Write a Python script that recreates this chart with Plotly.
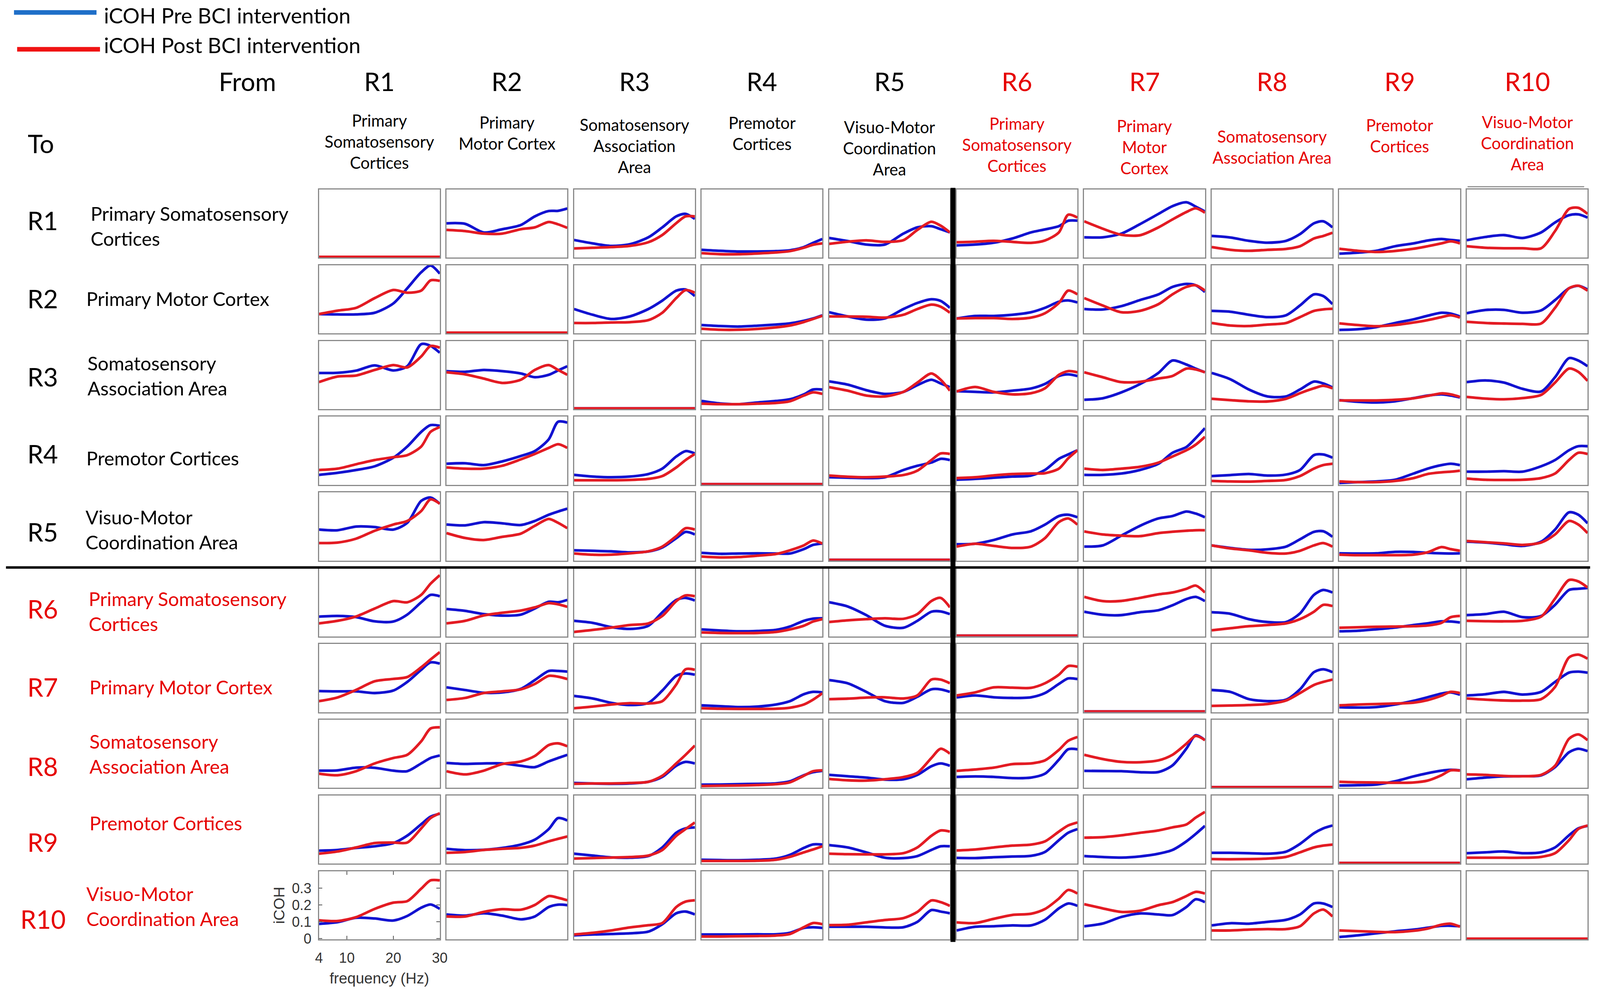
import plotly.graph_objects as go

# frequency samples (Hz) used for every small panel
FREQ = [4, 8, 12, 16, 20, 23, 26, 28, 30]
ZERO = [0, 0, 0, 0, 0, 0, 0, 0, 0]

# iCOH pre BCI intervention, one list per "To" row, one sub-list per "From" column
PRE_TO_R1 = [ZERO,
             [0.199, 0.196, 0.145, 0.164, 0.189, 0.24, 0.272, 0.273, 0.287],
             [0.10, 0.08, 0.065, 0.075, 0.116, 0.175, 0.24, 0.255, 0.225],
             [0.042, 0.036, 0.032, 0.032, 0.034, 0.039, 0.058, 0.083, 0.106],
             [0.112, 0.094, 0.073, 0.073, 0.138, 0.175, 0.182, 0.164, 0.145],
             [0.068, 0.073, 0.084, 0.109, 0.145, 0.163, 0.182, 0.214, 0.215],
             [0.116, 0.116, 0.138, 0.194, 0.255, 0.301, 0.324, 0.298, 0.269],
             [0.124, 0.115, 0.095, 0.084, 0.095, 0.135, 0.199, 0.211, 0.175],
             [0.019, 0.025, 0.036, 0.063, 0.08, 0.097, 0.106, 0.1, 0.095],
             [0.099, 0.118, 0.129, 0.112, 0.145, 0.204, 0.247, 0.252, 0.233]]
PRE_TO_R2 = [[0.11, 0.108, 0.108, 0.118, 0.173, 0.263, 0.358, 0.398, 0.35],
             ZERO,
             [0.14, 0.106, 0.081, 0.096, 0.14, 0.19, 0.249, 0.256, 0.217],
             [0.045, 0.039, 0.036, 0.041, 0.048, 0.055, 0.07, 0.084, 0.103],
             [0.121, 0.096, 0.077, 0.084, 0.14, 0.176, 0.198, 0.188, 0.147],
             [0.084, 0.099, 0.099, 0.106, 0.121, 0.147, 0.183, 0.191, 0.179],
             [0.14, 0.137, 0.157, 0.193, 0.227, 0.271, 0.289, 0.281, 0.241],
             [0.129, 0.124, 0.106, 0.092, 0.103, 0.161, 0.227, 0.217, 0.169],
             [0.016, 0.02, 0.033, 0.057, 0.079, 0.1, 0.118, 0.113, 0.096],
             [0.115, 0.134, 0.135, 0.118, 0.132, 0.193, 0.263, 0.278, 0.256]]
PRE_TO_R3 = [[0.21, 0.211, 0.224, 0.255, 0.225, 0.25, 0.381, 0.371, 0.33],
             [0.221, 0.217, 0.228, 0.221, 0.207, 0.185, 0.199, 0.225, 0.25],
             ZERO,
             [0.044, 0.029, 0.025, 0.035, 0.044, 0.054, 0.083, 0.112, 0.112],
             [0.16, 0.141, 0.108, 0.086, 0.098, 0.138, 0.17, 0.148, 0.126],
             [0.102, 0.098, 0.095, 0.105, 0.118, 0.145, 0.192, 0.202, 0.192],
             [0.051, 0.06, 0.095, 0.144, 0.211, 0.284, 0.26, 0.236, 0.214],
             [0.21, 0.173, 0.112, 0.071, 0.071, 0.112, 0.159, 0.148, 0.124],
             [0.049, 0.039, 0.035, 0.042, 0.061, 0.076, 0.083, 0.076, 0.065],
             [0.156, 0.166, 0.153, 0.116, 0.1, 0.185, 0.298, 0.284, 0.25]]
PRE_TO_R4 = [[0.055, 0.067, 0.084, 0.106, 0.157, 0.223, 0.31, 0.35, 0.346],
             [0.121, 0.124, 0.113, 0.135, 0.167, 0.196, 0.266, 0.37, 0.365],
             [0.055, 0.045, 0.041, 0.045, 0.06, 0.092, 0.164, 0.196, 0.182],
             ZERO,
             [0.041, 0.038, 0.036, 0.041, 0.084, 0.109, 0.128, 0.15, 0.143],
             [0.026, 0.031, 0.038, 0.045, 0.051, 0.084, 0.15, 0.176, 0.201],
             [0.055, 0.055, 0.063, 0.084, 0.121, 0.186, 0.22, 0.273, 0.332],
             [0.048, 0.054, 0.06, 0.051, 0.057, 0.084, 0.172, 0.176, 0.157],
             [0.007, 0.012, 0.016, 0.026, 0.063, 0.092, 0.113, 0.121, 0.113],
             [0.074, 0.074, 0.077, 0.074, 0.106, 0.143, 0.201, 0.225, 0.225]]
PRE_TO_R5 = [[0.18, 0.176, 0.198, 0.195, 0.18, 0.22, 0.35, 0.37, 0.333],
             [0.21, 0.205, 0.224, 0.217, 0.207, 0.231, 0.268, 0.287, 0.304],
             [0.057, 0.054, 0.051, 0.045, 0.05, 0.074, 0.129, 0.166, 0.151],
             [0.042, 0.036, 0.038, 0.039, 0.038, 0.038, 0.064, 0.089, 0.097],
             ZERO,
             [0.093, 0.096, 0.118, 0.151, 0.17, 0.209, 0.26, 0.268, 0.253],
             [0.079, 0.086, 0.144, 0.202, 0.246, 0.26, 0.287, 0.275, 0.253],
             [0.086, 0.071, 0.06, 0.063, 0.079, 0.122, 0.166, 0.17, 0.137],
             [0.039, 0.038, 0.039, 0.048, 0.047, 0.042, 0.039, 0.038, 0.039],
             [0.108, 0.103, 0.093, 0.083, 0.108, 0.18, 0.282, 0.268, 0.217]]
PRE_TO_R6 = [[0.113, 0.117, 0.11, 0.085, 0.084, 0.125, 0.198, 0.242, 0.234],
             [0.158, 0.147, 0.128, 0.119, 0.125, 0.161, 0.201, 0.198, 0.212],
             [0.088, 0.076, 0.051, 0.04, 0.059, 0.139, 0.212, 0.224, 0.209],
             [0.037, 0.031, 0.026, 0.028, 0.034, 0.054, 0.088, 0.101, 0.103],
             [0.198, 0.173, 0.122, 0.059, 0.047, 0.088, 0.142, 0.144, 0.128],
             ZERO,
             [0.142, 0.124, 0.122, 0.139, 0.151, 0.18, 0.217, 0.23, 0.205],
             [0.139, 0.13, 0.098, 0.081, 0.081, 0.132, 0.242, 0.271, 0.256],
             [0.026, 0.029, 0.038, 0.048, 0.063, 0.073, 0.085, 0.084, 0.078],
             [0.122, 0.128, 0.142, 0.11, 0.117, 0.183, 0.271, 0.278, 0.283]]
PRE_TO_R7 = [[0.121, 0.119, 0.119, 0.109, 0.124, 0.175, 0.247, 0.291, 0.284],
             [0.143, 0.127, 0.111, 0.113, 0.134, 0.186, 0.24, 0.24, 0.236],
             [0.092, 0.077, 0.051, 0.038, 0.051, 0.124, 0.211, 0.225, 0.218],
             [0.036, 0.031, 0.026, 0.029, 0.041, 0.061, 0.102, 0.116, 0.113],
             [0.186, 0.167, 0.116, 0.061, 0.051, 0.087, 0.131, 0.131, 0.116],
             [0.083, 0.095, 0.084, 0.08, 0.084, 0.109, 0.163, 0.196, 0.192],
             ZERO,
             [0.127, 0.116, 0.073, 0.061, 0.07, 0.131, 0.233, 0.25, 0.233],
             [0.025, 0.023, 0.026, 0.041, 0.063, 0.084, 0.106, 0.113, 0.099],
             [0.095, 0.102, 0.116, 0.1, 0.116, 0.175, 0.23, 0.236, 0.23]]
PRE_TO_R8 = [[0.098, 0.1, 0.116, 0.115, 0.098, 0.095, 0.141, 0.173, 0.188],
             [0.144, 0.138, 0.141, 0.141, 0.127, 0.119, 0.153, 0.173, 0.192],
             [0.025, 0.022, 0.02, 0.022, 0.032, 0.061, 0.127, 0.15, 0.141],
             [0.015, 0.016, 0.018, 0.02, 0.023, 0.035, 0.071, 0.089, 0.097],
             [0.073, 0.065, 0.057, 0.045, 0.047, 0.073, 0.124, 0.141, 0.127],
             [0.061, 0.064, 0.061, 0.054, 0.057, 0.08, 0.163, 0.225, 0.225],
             [0.097, 0.096, 0.095, 0.089, 0.09, 0.129, 0.229, 0.308, 0.279],
             ZERO,
             [0.01, 0.012, 0.016, 0.035, 0.064, 0.083, 0.098, 0.103, 0.1],
             [0.047, 0.057, 0.064, 0.065, 0.07, 0.119, 0.207, 0.228, 0.214]]
PRE_TO_R9 = [[0.073, 0.077, 0.089, 0.099, 0.118, 0.162, 0.23, 0.274, 0.292],
             [0.084, 0.076, 0.078, 0.089, 0.109, 0.138, 0.201, 0.266, 0.252],
             [0.055, 0.044, 0.033, 0.031, 0.041, 0.092, 0.179, 0.205, 0.211],
             [0.019, 0.017, 0.016, 0.019, 0.026, 0.048, 0.089, 0.11, 0.109],
             [0.106, 0.092, 0.063, 0.031, 0.029, 0.041, 0.077, 0.099, 0.099],
             [0.03, 0.029, 0.034, 0.038, 0.042, 0.065, 0.135, 0.179, 0.201],
             [0.041, 0.035, 0.032, 0.039, 0.055, 0.077, 0.128, 0.172, 0.22],
             [0.06, 0.06, 0.058, 0.055, 0.067, 0.113, 0.176, 0.205, 0.222],
             ZERO,
             [0.058, 0.063, 0.068, 0.058, 0.063, 0.092, 0.164, 0.205, 0.22]]
PRE_TO_R10 = [[0.088, 0.098, 0.124, 0.12, 0.108, 0.135, 0.184, 0.203, 0.177],
              [0.144, 0.137, 0.151, 0.137, 0.115, 0.132, 0.188, 0.202, 0.199],
              [0.02, 0.025, 0.028, 0.032, 0.042, 0.086, 0.151, 0.161, 0.144],
              [0.025, 0.025, 0.025, 0.026, 0.026, 0.035, 0.064, 0.068, 0.064],
              [0.071, 0.071, 0.071, 0.067, 0.068, 0.1, 0.17, 0.161, 0.151],
              [0.049, 0.071, 0.074, 0.079, 0.079, 0.112, 0.18, 0.209, 0.195],
              [0.074, 0.09, 0.129, 0.15, 0.144, 0.14, 0.188, 0.234, 0.217],
              [0.079, 0.092, 0.089, 0.1, 0.112, 0.144, 0.209, 0.209, 0.188],
              [0.01, 0.02, 0.032, 0.044, 0.054, 0.065, 0.076, 0.077, 0.074],
              ZERO]

# iCOH post BCI intervention
POST_TO_R1 = [ZERO,
              [0.16, 0.153, 0.138, 0.138, 0.164, 0.175, 0.207, 0.193, 0.172],
              [0.05, 0.054, 0.058, 0.065, 0.087, 0.13, 0.2, 0.24, 0.24],
              [0.022, 0.016, 0.016, 0.02, 0.026, 0.034, 0.054, 0.072, 0.08],
              [0.077, 0.09, 0.098, 0.089, 0.099, 0.16, 0.208, 0.185, 0.145],
              [0.087, 0.09, 0.095, 0.089, 0.083, 0.097, 0.145, 0.25, 0.233],
              [0.211, 0.167, 0.131, 0.128, 0.175, 0.222, 0.266, 0.288, 0.262],
              [0.058, 0.042, 0.036, 0.042, 0.047, 0.063, 0.109, 0.124, 0.143],
              [0.048, 0.036, 0.029, 0.035, 0.048, 0.063, 0.08, 0.092, 0.08],
              [0.063, 0.054, 0.051, 0.051, 0.051, 0.153, 0.284, 0.291, 0.255]]
POST_TO_R2 = [[0.11, 0.13, 0.147, 0.205, 0.253, 0.237, 0.249, 0.31, 0.307],
              ZERO,
              [0.057, 0.057, 0.06, 0.062, 0.074, 0.118, 0.205, 0.252, 0.237],
              [0.023, 0.017, 0.017, 0.022, 0.031, 0.042, 0.063, 0.081, 0.1],
              [0.096, 0.096, 0.094, 0.089, 0.106, 0.14, 0.166, 0.154, 0.118],
              [0.084, 0.086, 0.086, 0.081, 0.089, 0.115, 0.176, 0.249, 0.227],
              [0.205, 0.161, 0.121, 0.129, 0.169, 0.227, 0.271, 0.281, 0.249],
              [0.057, 0.042, 0.039, 0.048, 0.057, 0.092, 0.129, 0.138, 0.141],
              [0.055, 0.045, 0.038, 0.045, 0.06, 0.074, 0.092, 0.103, 0.089],
              [0.064, 0.057, 0.054, 0.052, 0.054, 0.147, 0.263, 0.278, 0.249]]
POST_TO_R3 = [[0.156, 0.189, 0.195, 0.228, 0.257, 0.243, 0.308, 0.37, 0.36],
              [0.214, 0.202, 0.177, 0.151, 0.17, 0.228, 0.257, 0.228, 0.199],
              ZERO,
              [0.028, 0.025, 0.025, 0.028, 0.032, 0.042, 0.076, 0.095, 0.086],
              [0.126, 0.105, 0.076, 0.071, 0.098, 0.153, 0.207, 0.17, 0.105],
              [0.1, 0.127, 0.098, 0.083, 0.09, 0.119, 0.199, 0.221, 0.214],
              [0.214, 0.185, 0.156, 0.158, 0.177, 0.192, 0.236, 0.231, 0.214],
              [0.057, 0.049, 0.042, 0.041, 0.057, 0.09, 0.119, 0.134, 0.119],
              [0.047, 0.047, 0.047, 0.051, 0.06, 0.074, 0.089, 0.083, 0.068],
              [0.068, 0.058, 0.054, 0.061, 0.08, 0.153, 0.236, 0.217, 0.163]]
POST_TO_R4 = [[0.084, 0.092, 0.118, 0.143, 0.16, 0.172, 0.223, 0.31, 0.339],
              [0.099, 0.092, 0.092, 0.109, 0.147, 0.179, 0.215, 0.237, 0.215],
              [0.023, 0.023, 0.023, 0.025, 0.031, 0.048, 0.099, 0.143, 0.179],
              ZERO,
              [0.051, 0.044, 0.041, 0.045, 0.054, 0.08, 0.143, 0.182, 0.179],
              [0.036, 0.041, 0.052, 0.06, 0.063, 0.065, 0.092, 0.153, 0.201],
              [0.092, 0.084, 0.092, 0.103, 0.128, 0.164, 0.201, 0.234, 0.281],
              [0.019, 0.016, 0.015, 0.019, 0.025, 0.048, 0.092, 0.113, 0.121],
              [0.016, 0.012, 0.012, 0.019, 0.036, 0.06, 0.07, 0.074, 0.08],
              [0.033, 0.026, 0.025, 0.026, 0.036, 0.063, 0.143, 0.186, 0.179]]
POST_TO_R5 = [[0.1, 0.103, 0.126, 0.173, 0.21, 0.231, 0.29, 0.359, 0.333],
              [0.159, 0.13, 0.118, 0.137, 0.156, 0.202, 0.243, 0.22, 0.188],
              [0.038, 0.031, 0.031, 0.039, 0.051, 0.079, 0.141, 0.188, 0.18],
              [0.02, 0.015, 0.017, 0.025, 0.035, 0.057, 0.086, 0.115, 0.097],
              ZERO,
              [0.079, 0.096, 0.083, 0.071, 0.079, 0.129, 0.224, 0.246, 0.209],
              [0.169, 0.151, 0.144, 0.141, 0.159, 0.167, 0.173, 0.176, 0.176],
              [0.086, 0.068, 0.057, 0.042, 0.038, 0.054, 0.086, 0.1, 0.079],
              [0.031, 0.028, 0.028, 0.028, 0.031, 0.045, 0.076, 0.064, 0.054],
              [0.112, 0.105, 0.098, 0.089, 0.103, 0.151, 0.231, 0.21, 0.159]]
POST_TO_R6 = [[0.073, 0.088, 0.114, 0.161, 0.205, 0.198, 0.242, 0.308, 0.359],
              [0.073, 0.088, 0.12, 0.136, 0.149, 0.168, 0.193, 0.186, 0.171],
              [0.022, 0.034, 0.048, 0.063, 0.073, 0.117, 0.205, 0.239, 0.234],
              [0.019, 0.016, 0.015, 0.016, 0.022, 0.037, 0.059, 0.084, 0.098],
              [0.081, 0.091, 0.098, 0.103, 0.1, 0.128, 0.205, 0.224, 0.168],
              ZERO,
              [0.23, 0.205, 0.206, 0.224, 0.245, 0.256, 0.278, 0.297, 0.256],
              [0.032, 0.044, 0.056, 0.063, 0.073, 0.098, 0.142, 0.183, 0.176],
              [0.047, 0.05, 0.053, 0.054, 0.056, 0.06, 0.076, 0.11, 0.117],
              [0.088, 0.086, 0.085, 0.088, 0.113, 0.22, 0.33, 0.322, 0.286]]
POST_TO_R7 = [[0.061, 0.083, 0.128, 0.179, 0.193, 0.204, 0.262, 0.308, 0.352],
              [0.068, 0.08, 0.109, 0.119, 0.131, 0.163, 0.211, 0.206, 0.192],
              [0.019, 0.029, 0.041, 0.049, 0.047, 0.061, 0.16, 0.25, 0.247],
              [0.019, 0.016, 0.015, 0.015, 0.016, 0.022, 0.041, 0.07, 0.108],
              [0.073, 0.076, 0.082, 0.084, 0.077, 0.095, 0.189, 0.189, 0.167],
              [0.095, 0.113, 0.143, 0.141, 0.14, 0.167, 0.218, 0.269, 0.265],
              ZERO,
              [0.033, 0.035, 0.038, 0.044, 0.065, 0.109, 0.157, 0.175, 0.189],
              [0.036, 0.041, 0.044, 0.047, 0.052, 0.067, 0.093, 0.116, 0.109],
              [0.077, 0.07, 0.065, 0.064, 0.073, 0.145, 0.32, 0.337, 0.313]]
POST_TO_R8 = [[0.08, 0.071, 0.095, 0.141, 0.173, 0.192, 0.272, 0.348, 0.355],
              [0.095, 0.076, 0.098, 0.137, 0.153, 0.185, 0.25, 0.26, 0.243],
              [0.02, 0.022, 0.022, 0.025, 0.032, 0.068, 0.141, 0.192, 0.247],
              [0.007, 0.009, 0.01, 0.013, 0.018, 0.029, 0.068, 0.095, 0.1],
              [0.049, 0.041, 0.039, 0.047, 0.06, 0.086, 0.173, 0.228, 0.199],
              [0.097, 0.105, 0.116, 0.137, 0.141, 0.159, 0.221, 0.275, 0.298],
              [0.192, 0.167, 0.15, 0.148, 0.159, 0.192, 0.258, 0.304, 0.279],
              ZERO,
              [0.032, 0.029, 0.028, 0.026, 0.028, 0.039, 0.071, 0.1, 0.098],
              [0.076, 0.073, 0.067, 0.065, 0.073, 0.127, 0.287, 0.313, 0.279]]
POST_TO_R9 = [[0.055, 0.068, 0.092, 0.118, 0.121, 0.121, 0.205, 0.266, 0.295],
              [0.06, 0.065, 0.077, 0.084, 0.09, 0.103, 0.128, 0.143, 0.157],
              [0.026, 0.029, 0.032, 0.035, 0.044, 0.077, 0.161, 0.201, 0.24],
              [0.012, 0.012, 0.012, 0.013, 0.019, 0.036, 0.063, 0.08, 0.099],
              [0.055, 0.052, 0.051, 0.051, 0.058, 0.092, 0.161, 0.193, 0.186],
              [0.074, 0.08, 0.092, 0.103, 0.109, 0.128, 0.186, 0.222, 0.24],
              [0.15, 0.153, 0.164, 0.179, 0.193, 0.211, 0.228, 0.269, 0.303],
              [0.023, 0.022, 0.023, 0.026, 0.036, 0.063, 0.092, 0.103, 0.109],
              ZERO,
              [0.031, 0.031, 0.031, 0.031, 0.036, 0.058, 0.135, 0.201, 0.222]]
POST_TO_R10 = [[0.109, 0.105, 0.128, 0.177, 0.214, 0.223, 0.297, 0.346, 0.346],
               [0.132, 0.132, 0.159, 0.175, 0.172, 0.2, 0.253, 0.243, 0.228],
               [0.025, 0.035, 0.049, 0.067, 0.08, 0.093, 0.188, 0.22, 0.228],
               [0.013, 0.013, 0.015, 0.016, 0.019, 0.028, 0.068, 0.093, 0.086],
               [0.081, 0.083, 0.097, 0.111, 0.122, 0.159, 0.227, 0.217, 0.195],
               [0.097, 0.093, 0.118, 0.141, 0.148, 0.176, 0.238, 0.289, 0.268],
               [0.205, 0.18, 0.159, 0.166, 0.199, 0.217, 0.253, 0.278, 0.268],
               [0.049, 0.049, 0.054, 0.057, 0.057, 0.074, 0.15, 0.173, 0.132],
               [0.049, 0.045, 0.041, 0.039, 0.047, 0.06, 0.083, 0.089, 0.071],
               ZERO]

REGIONS = ["R1", "R2", "R3", "R4", "R5", "R6", "R7", "R8", "R9", "R10"]
COL_NAMES = ["Primary<br>Somatosensory<br>Cortices", "Primary<br>Motor Cortex",
             "Somatosensory<br>Association<br>Area", "Premotor<br>Cortices",
             "Visuo-Motor<br>Coordination<br>Area", "Primary<br>Somatosensory<br>Cortices",
             "Primary<br>Motor<br>Cortex", "Somatosensory<br>Association Area",
             "Premotor<br>Cortices", "Visuo-Motor<br>Coordination<br>Area"]
ROW_NAMES = ["Primary Somatosensory<br>Cortices", "Primary Motor Cortex",
             "Somatosensory<br>Association Area", "Premotor Cortices",
             "Visuo-Motor<br>Coordination Area", "Primary Somatosensory<br>Cortices",
             "Primary Motor Cortex", "Somatosensory<br>Association Area",
             "Premotor Cortices", "Visuo-Motor<br>Coordination Area"]

PRE = [PRE_TO_R1, PRE_TO_R2, PRE_TO_R3, PRE_TO_R4, PRE_TO_R5,
       PRE_TO_R6, PRE_TO_R7, PRE_TO_R8, PRE_TO_R9, PRE_TO_R10]
POST = [POST_TO_R1, POST_TO_R2, POST_TO_R3, POST_TO_R4, POST_TO_R5,
        POST_TO_R6, POST_TO_R7, POST_TO_R8, POST_TO_R9, POST_TO_R10]

# ---- layout measured in pixels of the 4562 x 2567 picture;
# the figure autosizes to the window, sizes in px are divided by SCALE
W, H = 4562, 2567
EDGE = 9          # page margin around the autosized figure
SCALE = 1.105     # picture px per css px
COL_LEFT0, COL_PITCH, CELL_W = 905, 366.3, 347
ROW_TOP0, ROW_PITCH, CELL_H = 489, 195.2, 175.5

BLUE = "#1212d0"
RED = "#e31b23"
TXT_RED = "#e60000"
FONT = "Lato"


def px(x):
    return (x - EDGE) / (W - 2 * EDGE)


def py(y):
    return 1 - (y - EDGE) / (H - 2 * EDGE)


def sz(v):
    return v / SCALE


fig = go.Figure()
layout = {}

for i in range(10):
    for j in range(10):
        k = i * 10 + j + 1
        sfx = "" if k == 1 else str(k)
        left = COL_LEFT0 + j * COL_PITCH
        top = ROW_TOP0 + i * ROW_PITCH
        corner = (i == 9 and j == 0)

        for vals, col in ((PRE[i][j], BLUE), (POST[i][j], RED)):
            fig.add_trace(go.Scatter(
                x=FREQ, y=vals, mode="lines",
                line=dict(color=col, width=sz(7.5), shape="spline", smoothing=0.8),
                xaxis="x" + sfx, yaxis="y" + sfx,
                showlegend=False, hoverinfo="skip"))

        xa = dict(domain=[px(left), px(left + CELL_W)], anchor="y" + sfx,
                  range=[4, 30], showgrid=False, zeroline=False,
                  showline=True, mirror=True, linecolor="#8a8a8a", linewidth=sz(3),
                  showticklabels=False, ticks="")
        ya = dict(domain=[py(top + CELL_H), py(top)], anchor="x" + sfx,
                  range=[-0.004, 0.4], showgrid=False, zeroline=False,
                  showline=True, mirror=True, linecolor="#8a8a8a", linewidth=sz(3),
                  showticklabels=False, ticks="")
        if corner:
            tick_font = dict(family="Liberation Sans", size=sz(40), color="#333333")
            title_font = dict(family="Liberation Sans", size=sz(43), color="#333333")
            xa.update(showticklabels=True, ticks="inside", mirror="ticks",
                      tickvals=[4, 10, 20, 30], ticklen=sz(10), tickwidth=2,
                      tickcolor="#555555", tickfont=tick_font,
                      ticklabelstandoff=13,
                      title=dict(text="frequency (Hz)", standoff=20,
                                 font=title_font))
            ya.update(showticklabels=True, ticks="inside", mirror="ticks",
                      tickvals=[0, 0.1, 0.2, 0.3],
                      ticktext=["0", "0.1", "0.2", "0.3"], ticklen=sz(10),
                      tickwidth=2, tickcolor="#555555", tickfont=tick_font,
                      ticklabelstandoff=9,
                      title=dict(text="iCOH", standoff=7, font=title_font))
        layout["xaxis" + sfx] = xa
        layout["yaxis" + sfx] = ya

annotations = []


def add_text(text, x, y, size, color="black", xanchor="center", align="center"):
    annotations.append(dict(text=text, x=px(x), y=py(y), xref="paper", yref="paper",
                            xanchor=xanchor, yanchor="middle", align=align,
                            showarrow=False, borderpad=0,
                            font=dict(family=FONT, size=sz(size), color=color)))


# legend
add_text("iCOH Pre BCI intervention", 286, 40, 60, xanchor="left", align="left")
add_text("iCOH Post BCI intervention", 286, 117, 60, xanchor="left", align="left")

# column headers
add_text("From", 700, 210, 72)
col_name_y = [365, 343, 376, 344, 382, 373, 379, 379, 350, 369]
for j in range(10):
    cx = COL_LEFT0 + j * COL_PITCH + CELL_W / 2
    color = "black" if j < 5 else TXT_RED
    add_text(REGIONS[j], cx, 210, 72, color)
    add_text(COL_NAMES[j], cx, col_name_y[j], 46, color)

# row headers
add_text("To", 106, 370, 72)
row_label_y = [569, 770, 971, 1170, 1371, 1569, 1771, 1975, 2170, 2369]
row_name_x = [248, 236, 239, 236, 233, 242, 245, 245, 245, 236]
row_name_y = [583, 770, 968, 1181, 1365, 1575, 1771, 1943, 2121, 2336]
for i in range(10):
    color = "black" if i < 5 else TXT_RED
    add_text(REGIONS[i], 112, row_label_y[i], 72, color)
    add_text(ROW_NAMES[i], row_name_x[i], row_name_y[i], 54, color,
             xanchor="left", align="left")


def hline(x0, x1, y, color, width):
    return dict(type="line", xref="paper", yref="paper", x0=px(x0), x1=px(x1),
                y0=py(y), y1=py(y), line=dict(color=color, width=sz(width)))


shapes = [
    # legend swatches
    hline(29, 266, 33, "#1f6fc8", 13),
    hline(38, 276, 128, "#f01414", 13),
    # separators between the two groups of regions
    dict(type="line", xref="paper", yref="paper", x0=px(2726), x1=px(2726),
         y0=py(485), y1=py(2428), line=dict(color="black", width=sz(14))),
    hline(6, 4556, 1463, "black", 7),
    hline(4204, 4539, 482, "#8a8a8a", 3),
]

fig.update_layout(
    autosize=True,
    margin=dict(l=0, r=0, t=0, b=0),
    paper_bgcolor="white", plot_bgcolor="white",
    annotations=annotations, shapes=shapes,
    **layout,
)

fig.write_html("out.html", config={"responsive": True})
